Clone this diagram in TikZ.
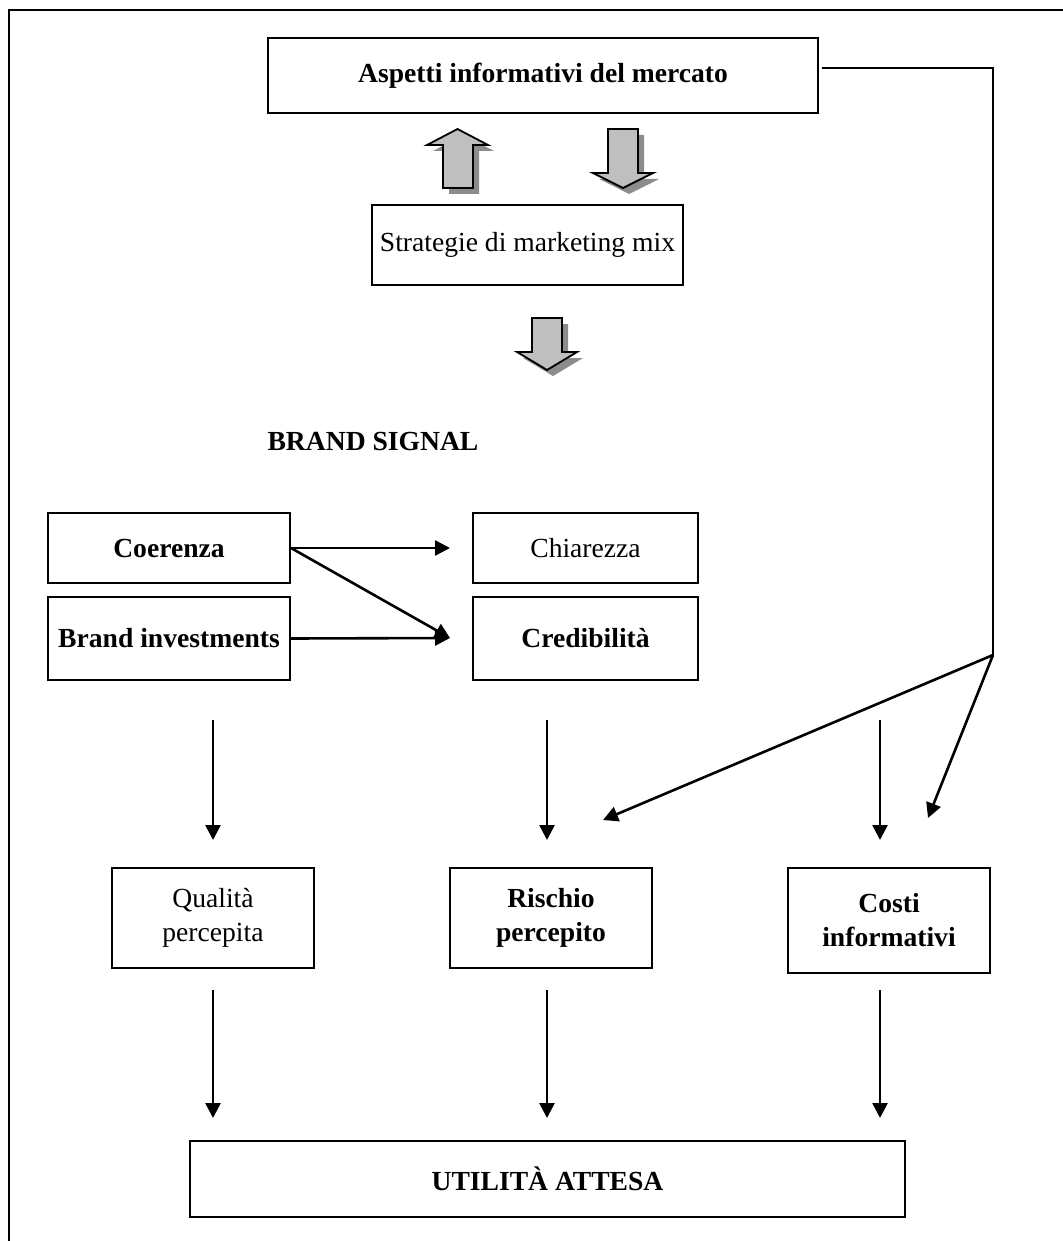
\documentclass[tikz,border=0pt]{standalone}
\usepackage{fontspec}
\setmainfont{Liberation Serif}
\usetikzlibrary{arrows.meta}
\begin{document}
\begin{tikzpicture}[x=0.5pt,y=-0.5pt,
  w/.style={minimum width=#1*0.5pt},
  h/.style={minimum height=#1*0.5pt},
  box/.style={draw,line width=1pt,inner sep=0pt,align=center,
    font=\fontsize{13.8}{17}\selectfont},
  boldbox/.style={box,font=\fontsize{13.8}{17}\selectfont\bfseries},
  conn/.style={line width=1.3pt,-{Triangle[length=7.5pt,width=7.5pt]}},
  plain/.style={line width=1.3pt},
  blockarrow/.style={fill=black!25,draw=black,line width=0.9pt,line join=miter},
  blockshadow/.style={fill=black!45}]
\clip (0,0) rectangle (1063,1241);
\useasboundingbox (0,0) rectangle (1063,1241);
\fill[white] (0,0) rectangle (1063,1241);
% outer frame (runs past the right and bottom edges)
\draw[line width=1pt] (9,1300) -- (9,10) -- (1100,10);

% boxes
\node[boldbox,w=550,h=75] (mercato) at (543,75.5) {Aspetti informativi del mercato};
\node[box,w=311,h=80] (strategie) at (527.5,245) {Strategie di marketing mix};
\node[font=\fontsize{13.8}{17}\selectfont\bfseries] (signal) at (373,441) {BRAND SIGNAL};
\node[boldbox,w=242,h=70] (coerenza) at (169,548) {Coerenza};
\node[boldbox,w=242,h=83] (invest) at (169,638.5) {Brand investments};
\node[box,w=225,h=70] (chiarezza) at (585.5,548) {Chiarezza};
\node[boldbox,w=225,h=83] (credib) at (585.5,638.5) {Credibilità};
\node[box,w=202,h=100] (qualita) at (213,918) {Qualità\\percepita};
\node[boldbox,w=202,h=100] (rischio) at (551,918) {Rischio\\percepito};
\node[boldbox,w=202,h=105] (costi) at (889,920) {Costi\\informativi};
\node[boldbox,w=715,h=76] (utilita) at (547.5,1179) {UTILITÀ ATTESA};

% block arrows with drop shadows
\foreach \dx/\dy/\s in {6/6/blockshadow,0/0/blockarrow}{
  \begin{scope}[shift={(\dx,\dy)}]
    \path[\s] (457.5,129) -- (488,145) -- (473,145) -- (473,188) -- (443,188) -- (443,145) -- (427,145) -- cycle;
    \path[\s] (608,129) -- (638,129) -- (638,173) -- (653,173) -- (623,188) -- (593,173) -- (608,173) -- cycle;
    \path[\s] (532,318) -- (562,318) -- (562,352) -- (577,352) -- (547,370) -- (517,352) -- (532,352) -- cycle;
  \end{scope}
}

% connectors between brand signal boxes
\coordinate (c1) at (coerenza.east);
\coordinate (t1) at (450,548);
\coordinate (t2) at (450,638);
\draw[conn] (c1) -- (t1);
\draw[conn] (c1) -- (t2);
\draw[conn] (invest.east) -- (t2);

% vertical arrows into the perception boxes
\coordinate (a1) at (213,720);
\coordinate (a2) at (547,720);
\coordinate (a3) at (880,720);
\draw[conn] (a1) -- (213,840);
\draw[conn] (a2) -- (547,840);
\draw[conn] (a3) -- (880,840);

% feedback line from the market information box
\coordinate (m1) at (822,68);
\coordinate (m2) at (993,68);
\coordinate (j) at (993,655);
\draw[plain,line join=miter] (m1) -- (m2) -- (j);
\draw[conn] (j) -- (603,820);
\draw[conn] (j) -- (928,818);

% arrows into expected utility
\draw[conn] (213,990) -- (213,1118);
\draw[conn] (547,990) -- (547,1118);
\draw[conn] (880,990) -- (880,1118);
\end{tikzpicture}
\end{document}
